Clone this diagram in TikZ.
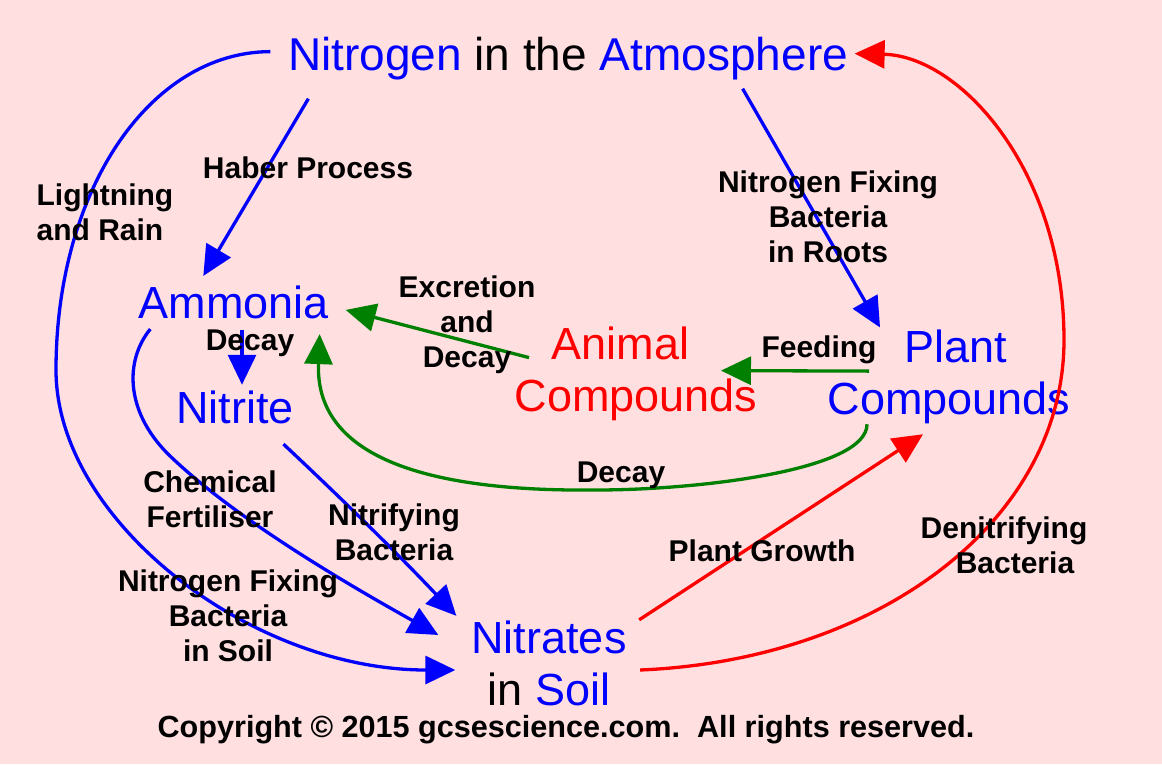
\documentclass[tikz,border=0pt]{standalone}
\usepackage{fontspec}
\setmainfont{Liberation Sans}
\usetikzlibrary{arrows.meta}
\definecolor{bgpink}{RGB}{255,223,223}
\definecolor{leafgreen}{RGB}{0,128,0}
\begin{document}
\begin{tikzpicture}[x=1pt,y=-1pt,line width=3.3pt,line join=round,
    big/.style={inner sep=0pt,font=\fontsize{45}{52}\selectfont},
    lbl/.style={inner sep=0pt,align=center,font=\fontsize{30}{35}\selectfont\bfseries},
    flow/.style={-{Triangle[length=30pt,width=28pt]}}]
  \fill[bgpink] (0,0) rectangle (1162,764);
  \node[big,anchor=base,font=\fontsize{46}{52}\selectfont] (atm) at (568,70) {\textcolor{blue}{Nitrogen} in the \textcolor{blue}{Atmosphere}};
  \node[big,blue,anchor=base] (amm) at (234,318) {Ammonia};
  \node[big,blue,anchor=base] (nitrite) at (235,423) {Nitrite};
  \node[big,red,align=center] (animal) at (636,373.6) {Animal\hspace*{31pt}\\Compounds};
  \node[big,blue,align=center] (plant) at (949,377.1) {\hspace*{14pt}Plant\\Compounds};
  \node[big,blue,align=center] (nitrates) at (549,663) {Nitrates\\\textcolor{black}{in} Soil};
  \draw[flow,blue] ([xshift=22pt,yshift=-17.5pt]atm.south west) -- ([xshift=66pt,yshift=7.8pt]amm.north west);
  \draw[flow,blue] ([xshift=-16pt,yshift=6.5pt]atm.west) .. controls (150,52) and (56,190) .. (56,370)
    .. controls (56,520) and (250,670) .. ([xshift=-14.5pt,yshift=-7pt]nitrates.west);
  \draw[flow,blue] ([xshift=8pt,yshift=-10pt]amm.south) -- ([xshift=7pt,yshift=4pt]nitrite.north);
  \draw[flow,blue] ([xshift=13pt,yshift=-9pt]amm.south west) .. controls (125,360) and (125,410) .. (167,453)
    .. controls (230,515) and (340,580) .. ([xshift=-31.5pt,yshift=28pt]nitrates.west);
  \draw[flow,blue] ([xshift=-12pt,yshift=-19pt]nitrite.south east) .. controls (340,497) and (400,556) .. ([xshift=-13.5pt,yshift=3pt]nitrates.north west);
  \draw[flow,blue] ([xshift=-107pt,yshift=-7.5pt]atm.south east) -- ([xshift=54pt,yshift=1pt]plant.north west);
  \draw[flow,leafgreen] ([xshift=43pt,yshift=6pt]plant.west) -- ([xshift=-38pt,yshift=3pt]animal.east);
  \draw[flow,leafgreen] ([xshift=16pt,yshift=16pt]animal.west) -- ([xshift=15pt,yshift=-8pt]amm.east);
  \draw[flow,leafgreen] ([xshift=41pt,yshift=1.5pt]plant.south west) .. controls (867,470) and (700,490) .. (596,490)
    .. controls (410,492) and (315,450) .. ([xshift=-11pt,yshift=-14pt]amm.south east);
  \draw[flow,red] ([xshift=11pt,yshift=-1pt]nitrates.north east) -- ([xshift=97pt,yshift=-8.5pt]plant.south west);
  \draw[flow,red] ([xshift=12pt,yshift=-7pt]nitrates.east) .. controls (880,660) and (1064,520) .. (1064,340)
    .. controls (1064,170) and (960,56) .. ([xshift=5pt,yshift=4.5pt]atm.east);
  \node[lbl] (haber) at (308,168) {Haber Process};
  \node[lbl,align=left,anchor=west] (lightning) at (35,212.5) {Lightning\\and Rain};
  \node[lbl] (roots) at (828,217) {Nitrogen Fixing\\Bacteria\\in Roots};
  \node[lbl] (excretion) at (467,325) {Excretion\\and\\Decay};
  \node[lbl] (feeding) at (819,350) {Feeding};
  \node[lbl] (decayA) at (250,343) {Decay};
  \node[lbl] (decayP) at (621,475) {Decay};
  \node[lbl] (chemical) at (210,499.5) {Chemical\\Fertiliser};
  \node[lbl] (nitrifying) at (394,532.5) {Nitrifying\\Bacteria};
  \node[lbl] (growth) at (762,551) {Plant Growth};
  \node[lbl] (denitrifying) at (1004,545) {Denitrifying\\\hspace*{22pt}Bacteria};
  \node[lbl] (soilfix) at (228,616) {Nitrogen Fixing\\Bacteria\\in Soil};
  \node[lbl,font=\fontsize{30.6}{35}\selectfont\bfseries] (copyright) at (566,730) {Copyright © 2015 gcsescience.com.\ \ All rights reserved.};
\end{tikzpicture}
\end{document}
